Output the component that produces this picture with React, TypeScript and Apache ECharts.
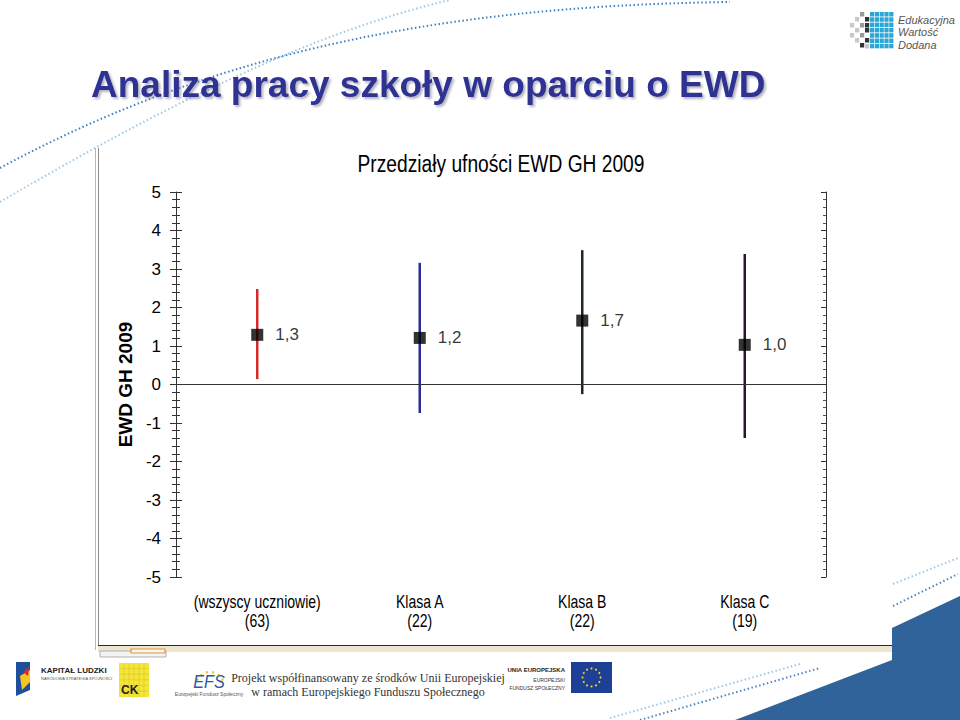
import React, { useEffect, useRef } from "react";
import * as echarts from "echarts";

const categories = ["(wszyscy uczniowie)\n(63)", "Klasa A\n(22)", "Klasa B\n(22)", "Klasa C\n(19)"];
const means = [1.29, 1.21, 1.66, 1.03];
const lows = [0.14, -0.74, -0.25, -1.39];
const highs = [2.48, 3.16, 3.49, 3.39];
const barColors = ["#d42a2a", "#2b2b9c", "#1c2b1c", "#2a1530"];
const yMin = -5;
const yMax = 5;

const SANS = '"Liberation Sans", Arial, sans-serif';
const NARROW_SCALE = 0.78;

function decorations(): any[] {
  const els: any[] = [];
  els.push({
    type: "bezierCurve", z: -10,
    shape: { x1: 0, y1: 168, cpx1: 200, cpy1: 60, cpx2: 420, cpy2: 6, x2: 730, y2: 2 },
    style: { stroke: "#3f7fbf", lineWidth: 2, lineDash: [1.5, 2.5], fill: null },
  });
  els.push({
    type: "bezierCurve", z: -10,
    shape: { x1: 0, y1: 202, cpx1: 140, cpy1: 120, cpx2: 300, cpy2: 35, x2: 450, y2: 0 },
    style: { stroke: "#9cc8e6", lineWidth: 2, lineDash: [1.5, 2.5], fill: null },
  });
  els.push({ type: "line", z: -5, shape: { x1: 95.5, y1: 148, x2: 95.5, y2: 650 }, style: { stroke: "#b8b8b0", lineWidth: 1 } });
  els.push({ type: "line", z: -5, shape: { x1: 98.5, y1: 148, x2: 98.5, y2: 646 }, style: { stroke: "#8a8a84", lineWidth: 1 } });
  els.push({ type: "rect", z: -5, shape: { x: 98, y: 646, width: 794, height: 6 }, style: { fill: "#ede5cf" } });
  els.push({ type: "line", z: -5, shape: { x1: 98, y1: 645.5, x2: 892, y2: 645.5 }, style: { stroke: "#2a2a2a", lineWidth: 1.2 } });
  els.push({ type: "rect", z: -5, shape: { x: 100, y: 651, width: 66, height: 6 }, style: { fill: "#f4f4f4", stroke: "#a0a0a0", lineWidth: 0.8 } });
  els.push({ type: "rect", z: -5, shape: { x: 131, y: 649, width: 34, height: 4 }, style: { fill: "#f4f4f4", stroke: "#e09a30", lineWidth: 1.2 } });
  els.push({
    type: "polygon", z: -8,
    shape: { points: [[735, 720], [892, 660], [892, 628], [960, 596], [960, 720]] },
    style: { fill: "#2f6399" },
  });
  const dots: number[][][] = [
    [[893, 584], [958, 558]],
    [[893, 606], [958, 574]],
    [[610, 718], [800, 664]],
    [[640, 720], [820, 668]],
  ];
  dots.forEach((d, i) => {
    els.push({
      type: "line", z: -9,
      shape: { x1: d[0][0], y1: d[0][1], x2: d[1][0], y2: d[1][1] },
      style: { stroke: i % 2 === 0 ? "#9cc8e6" : "#4a86c0", lineWidth: 2, lineDash: [1.5, 2.5] },
    });
  });
  for (let r = 0; r < 7; r++) {
    for (let c = 0; c < 5; c++) {
      els.push({ type: "rect", shape: { x: 870 + c * 4.8, y: 12 + r * 5.3, width: 4.2, height: 4.5 }, style: { fill: "#2aa7d8" } });
    }
  }
  const grays: number[][] = [
    [860, 12, 0], [855, 17, 1], [865, 17, 2], [850, 23, 1], [860, 23, 0], [865, 23, 2],
    [855, 28, 1], [865, 28, 2], [850, 33, 1], [860, 33, 0], [855, 38, 1], [865, 38, 2], [860, 43, 2], [865, 44, 1],
  ];
  grays.forEach((g) => {
    els.push({ type: "rect", shape: { x: g[0], y: g[1], width: 4.2, height: 4.5 }, style: { fill: g[2] === 0 ? "#9a9a9a" : g[2] === 1 ? "#c8c8c8" : "#333" } });
  });
  ["Edukacyjna", "Wartość", "Dodana"].forEach((t, i) => {
    els.push({ type: "text", x: 898, y: 14 + i * 12.5, style: { text: t, fill: "#555", font: "italic 11px " + SANS } });
  });
  els.push({ type: "polygon", shape: { points: [[16, 662], [30, 662], [30, 690], [16, 696]] }, style: { fill: "#1f4e9c" } });
  els.push({ type: "polygon", shape: { points: [[20, 676], [30, 670], [30, 682], [22, 690]] }, style: { fill: "#f3c623" } });
  els.push({ type: "polygon", shape: { points: [[23, 672], [29, 667], [28, 676]] }, style: { fill: "#d62a2a" } });
  els.push({ type: "text", x: 41, y: 666, style: { text: "KAPITAŁ LUDZKI", fill: "#222", font: "bold 8px " + SANS } });
  els.push({ type: "text", x: 41, y: 676, style: { text: "NARODOWA STRATEGIA SPÓJNOŚCI", fill: "#555", font: "4px " + SANS } });
  els.push({ type: "rect", shape: { x: 119, y: 663, width: 30, height: 34 }, style: { fill: "#f5e63a" } });
  for (let i = 1; i < 6; i++) {
    els.push({ type: "line", shape: { x1: 119 + i * 5, y1: 663, x2: 119 + i * 5, y2: 697 }, style: { stroke: "#d8c420", lineWidth: 0.6 } });
    els.push({ type: "line", shape: { x1: 119, y1: 663 + i * 5.6, x2: 149, y2: 663 + i * 5.6 }, style: { stroke: "#d8c420", lineWidth: 0.6 } });
  }
  els.push({ type: "text", x: 121, y: 684, style: { text: "CK", fill: "#222", font: "bold 12px " + SANS } });
  for (let i = 0; i < 6; i++) {
    const a = Math.PI * (1.15 + i * 0.14);
    els.push({ type: "circle", shape: { cx: 210 + 14 * Math.cos(a), cy: 686 + 14 * Math.sin(a), r: 1.2 }, style: { fill: "#f0c020" } });
  }
  els.push({ type: "text", x: 209, y: 682, scaleX: 0.9, style: { text: "EFS", fill: "#2a5aa8", font: "italic 18px " + SANS, align: "center", verticalAlign: "middle" } });
  els.push({ type: "text", x: 209, y: 694, style: { text: "Europejski Fundusz Społeczny", fill: "#555", font: "5px " + SANS, align: "center", verticalAlign: "middle" } });
  els.push({
    type: "text", x: 368, y: 671,
    style: { text: "Projekt współfinansowany ze środków Unii Europejskiej\nw ramach Europejskiego Funduszu Społecznego", fill: "#333", font: "12px \"Liberation Serif\", \"DejaVu Serif\", serif", align: "center", lineHeight: 14 },
  });
  els.push({ type: "text", x: 565, y: 667, style: { text: "UNIA EUROPEJSKA", fill: "#222", font: "bold 6px " + SANS, align: "right" } });
  els.push({ type: "text", x: 565, y: 677, style: { text: "EUROPEJSKI", fill: "#333", font: "5px " + SANS, align: "right" } });
  els.push({ type: "text", x: 565, y: 685, style: { text: "FUNDUSZ SPOŁECZNY", fill: "#333", font: "5px " + SANS, align: "right" } });
  els.push({ type: "rect", shape: { x: 571, y: 662, width: 41, height: 31 }, style: { fill: "#1d3f96" } });
  for (let i = 0; i < 12; i++) {
    const a = (i / 12) * Math.PI * 2;
    els.push({ type: "circle", shape: { cx: 591.5 + 9 * Math.cos(a), cy: 677.5 + 9 * Math.sin(a), r: 1 }, style: { fill: "#f5d020" } });
  }
  els.push({
    type: "text", x: 501, y: 164, scaleX: 0.835,
    style: { text: "Przedziały ufności EWD GH 2009", fill: "#000", font: "23px " + SANS, align: "center", verticalAlign: "middle" },
  });
  return els;
}

export default function App() {
  const ref = useRef<HTMLDivElement>(null);
  useEffect(() => {
    if (!ref.current) return;
    const chart = echarts.init(ref.current, null, { renderer: "svg" });
    const axisLineStyle = { color: "#333", width: 1 };
    const yCommon = { type: "value", min: yMin, max: yMax, interval: 1, splitLine: { show: false } };
    chart.setOption({
      animation: false,
      backgroundColor: "#ffffff",
      title: [
        {
          text: "Analiza pracy szkoły w oparciu o EWD",
          left: 86, top: 61,
          textStyle: {
            fontFamily: SANS, fontWeight: "bold", fontSize: 37, color: "#2e3192",
            textShadowColor: "rgba(120,120,140,0.55)", textShadowOffsetX: 2, textShadowOffsetY: 2, textShadowBlur: 2,
          },
        },
      ],
      grid: { left: 176, right: 134, top: 192, bottom: 143, outerBoundsMode: "none", containLabel: false },
      xAxis: [
        {
          type: "category", data: categories, position: "bottom",
          axisLine: { lineStyle: axisLineStyle },
          axisTick: { alignWithLabel: true, length: 7, lineStyle: { color: "#333" } },
          axisLabel: { show: false },
        },
        {
          type: "category", data: categories, position: "bottom",
          axisLine: { show: false },
          axisTick: { alignWithLabel: true, inside: true, length: 6, lineStyle: { color: "#333" } },
          axisLabel: { show: false },
        },
        {
          type: "category", data: categories, position: "top",
          axisLine: { lineStyle: axisLineStyle },
          axisTick: { alignWithLabel: true, inside: true, length: 5, lineStyle: { color: "#333" } },
          axisLabel: { show: false },
        },
      ],
      yAxis: [
        {
          ...yCommon, position: "left",
          name: "EWD GH 2009", nameLocation: "middle", nameGap: 33, nameRotate: 90,
          nameTextStyle: { fontFamily: SANS, fontWeight: "bold", fontSize: 19, color: "#000" },
          axisLine: { show: true, lineStyle: axisLineStyle },
          axisTick: { show: true, length: 6, lineStyle: { color: "#333" } },
          minorTick: { show: true, splitNumber: 5, length: 4, lineStyle: { color: "#333" } },
          axisLabel: { fontFamily: SANS, fontSize: 17, color: "#000", margin: 15 },
        },
        {
          ...yCommon, position: "left",
          axisLine: { show: false },
          axisTick: { show: true, inside: true, length: 6, lineStyle: { color: "#333" } },
          minorTick: { show: true, splitNumber: 5, length: 4, lineStyle: { color: "#333" } },
          axisLabel: { show: false },
        },
        {
          ...yCommon, position: "right",
          axisLine: { show: true, lineStyle: axisLineStyle },
          axisTick: { show: true, inside: true, length: 5, lineStyle: { color: "#333" } },
          minorTick: { show: true, splitNumber: 5, length: 3, lineStyle: { color: "#555" } },
          axisLabel: { show: false },
        },
      ],
      series: [
        {
          type: "custom",
          xAxisIndex: 0, yAxisIndex: 0,
          data: categories.map((_, i) => [i, lows[i], highs[i]]),
          renderItem: (params: any, api: any) => {
            const i = api.value(0);
            const p1 = api.coord([i, api.value(1)]);
            const p2 = api.coord([i, api.value(2)]);
            return {
              type: "line",
              shape: { x1: p1[0], y1: p1[1], x2: p2[0], y2: p2[1] },
              style: { stroke: barColors[params.dataIndex], lineWidth: 2.5 },
            };
          },
          z: 2,
        },
        {
          type: "scatter",
          xAxisIndex: 0, yAxisIndex: 0,
          data: categories.map((_, i) => [i, means[i]]),
          symbol: "rect", symbolSize: 12,
          itemStyle: { color: "#000" },
          label: {
            show: true, position: "right", distance: 12,
            fontFamily: SANS, fontSize: 17, color: "#000",
            formatter: (p: any) => p.value[1].toFixed(1).replace(".", ","),
          },
          markLine: {
            silent: true, symbol: "none", label: { show: false },
            lineStyle: { color: "#333", width: 1, type: "solid" },
            data: [{ yAxis: 0 }],
          },
          z: 3,
        },
      ],
      graphic: decorations(),
    });
    const baseY = chart.convertToPixel({ yAxisIndex: 0 }, yMin) as number;
    const labels = categories.map((c, i) => {
      const x = chart.convertToPixel({ xAxisIndex: 0 }, i) as number;
      return {
        type: "text", x, y: baseY + 15, scaleX: NARROW_SCALE,
        style: { text: c, fill: "#000", font: "18px " + SANS, align: "center", verticalAlign: "top", lineHeight: 19 },
      };
    });
    chart.setOption({ graphic: [...decorations(), ...labels] });
    return () => chart.dispose();
  }, []);
  return <div ref={ref} style={{ position: "fixed", left: 0, top: 0, width: 960, height: 720 }} />;
}
